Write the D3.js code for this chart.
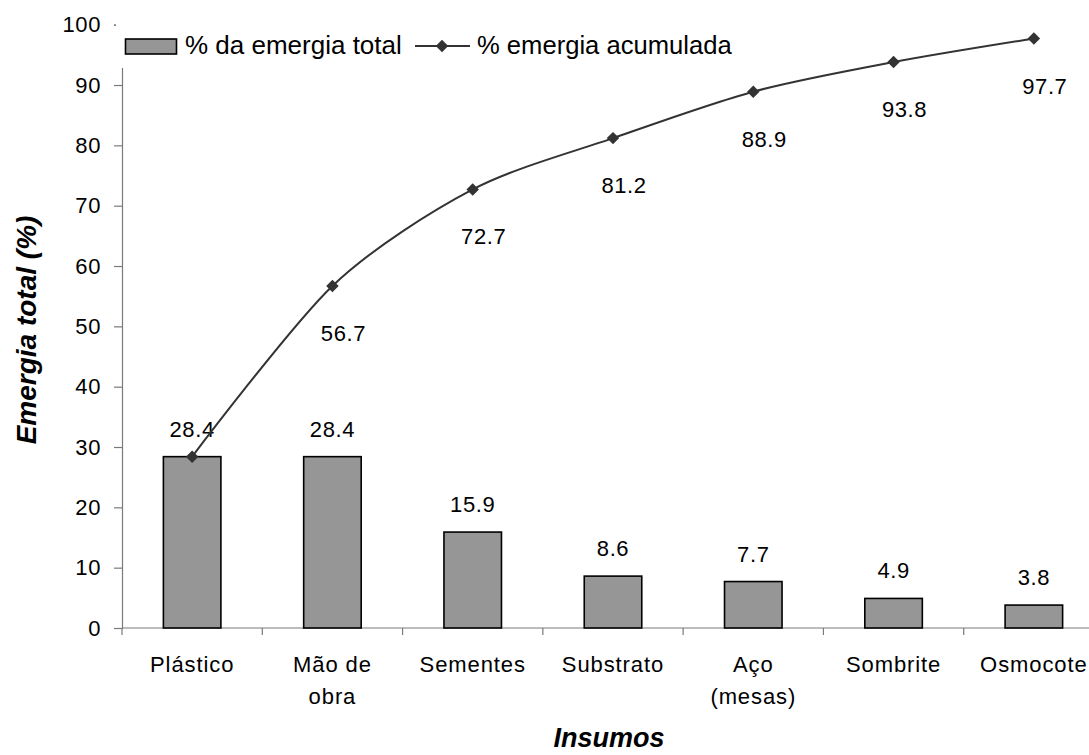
<!DOCTYPE html>
<html>
<head>
<meta charset="utf-8">
<script src="https://cdn.jsdelivr.net/npm/d3@7"></script>
<style>
  html, body { margin: 0; padding: 0; background: #fff; }
  svg { display: block; font-family: "Liberation Sans", Arial, sans-serif; }
</style>
</head>
<body>
<svg id="chart" width="1089" height="755"></svg>
<script>
// Emergy inputs, their share of total emergy and the running total
const categories = ["Plástico", "Mão de\nobra", "Sementes", "Substrato", "Aço\n(mesas)", "Sombrite", "Osmocote"];
const shareValues = [28.4, 28.4, 15.9, 8.6, 7.7, 4.9, 3.8];
const cumulativeValues = [28.4, 56.7, 72.7, 81.2, 88.9, 93.8, 97.7];
const yTicks = [0, 10, 20, 30, 40, 50, 60, 70, 80, 90, 100];
const legendLabels = ["% da emergia total", "% emergia acumulada"];

const svg = d3.select("#chart");
const plotLeft = 122, plotRight = 1104, plotTop = 24.7, plotBottom = 628;

const x = d3.scaleBand().domain(d3.range(categories.length)).range([plotLeft, plotRight]).padding(0);
const y = d3.scaleLinear().domain([0, 100]).range([plotBottom, plotTop]);
const axisColor = "#7a7a7a";

// Y axis
const yAxis = svg.append("g")
  .attr("transform", `translate(${plotLeft},0)`)
  .call(d3.axisLeft(y).tickValues(yTicks).tickSize(8).tickPadding(13).tickFormat(d3.format("d")));
yAxis.select(".domain").attr("stroke", axisColor).attr("stroke-width", 1.2);
yAxis.selectAll(".tick line").attr("stroke", axisColor).attr("stroke-width", 1.2);
yAxis.selectAll(".tick text")
  .attr("font-size", 22).attr("fill", "#000")
  .attr("font-family", "Liberation Sans, Arial, sans-serif")
  .attr("letter-spacing", 0.6);

// X axis (category boundaries ticked)
const xAxisG = svg.append("g").attr("transform", `translate(0,${plotBottom})`);
xAxisG.append("line")
  .attr("x1", plotLeft).attr("x2", plotRight).attr("y1", 0).attr("y2", 0)
  .attr("stroke", axisColor).attr("stroke-width", 1.2);
xAxisG.selectAll("line.tk")
  .data(d3.range(categories.length + 1))
  .join("line").attr("class", "tk")
  .attr("x1", i => plotLeft + i * x.step()).attr("x2", i => plotLeft + i * x.step())
  .attr("y1", 0).attr("y2", 7)
  .attr("stroke", axisColor).attr("stroke-width", 1.2);

// Category labels
const catLabels = svg.append("g").selectAll("text")
  .data(categories)
  .join("text")
  .attr("text-anchor", "middle")
  .attr("font-size", 22)
  .attr("letter-spacing", 0.9)
  .attr("fill", "#000")
  .attr("transform", (d, i) => `translate(${x(i) + x.bandwidth() / 2},${plotBottom + 44})`);
catLabels.selectAll("tspan")
  .data(d => d.split("\n"))
  .join("tspan")
  .attr("x", 0)
  .attr("dy", (d, i) => i === 0 ? 0 : 31.6)
  .text(d => d);

// Bars
const barW = x.bandwidth() * 0.41;
svg.append("g").selectAll("rect")
  .data(shareValues)
  .join("rect")
  .attr("x", (d, i) => x(i) + x.bandwidth() / 2 - barW / 2)
  .attr("y", d => y(d))
  .attr("width", barW)
  .attr("height", d => y(0) - y(d))
  .attr("fill", "#969696")
  .attr("stroke", "#000")
  .attr("stroke-width", 1.6);

// Bar value labels
svg.append("g").selectAll("text")
  .data(shareValues)
  .join("text")
  .attr("x", (d, i) => x(i) + x.bandwidth() / 2)
  .attr("y", d => y(d) - 20)
  .attr("text-anchor", "middle")
  .attr("font-size", 22)
  .attr("letter-spacing", 0.6)
  .text(d => d3.format(".1f")(d));

// Cumulative line (smoothed)
const line = d3.line()
  .x((d, i) => x(i) + x.bandwidth() / 2)
  .y(d => y(d))
  .curve(d3.curveCardinal.tension(0.15));
svg.append("path")
  .datum(cumulativeValues)
  .attr("d", line)
  .attr("fill", "none")
  .attr("stroke", "#333")
  .attr("stroke-width", 2);

const diamond = d3.symbol().type(d3.symbolSquare).size(78);
svg.append("g").selectAll("path")
  .data(cumulativeValues)
  .join("path")
  .attr("d", diamond)
  .attr("transform", (d, i) => `translate(${x(i) + x.bandwidth() / 2},${y(d)}) rotate(45)`)
  .attr("fill", "#333");

// Cumulative value labels (first point shares its label with the bar)
svg.append("g").selectAll("text")
  .data(cumulativeValues.map((v, i) => ({ v, i })).filter(d => d.i > 0))
  .join("text")
  .attr("x", d => x(d.i) + x.bandwidth() / 2 + 11)
  .attr("y", d => y(d.v) + 55)
  .attr("text-anchor", "middle")
  .attr("font-size", 22)
  .attr("letter-spacing", 0.6)
  .text(d => d3.format(".1f")(d.v));

// Legend (white box sits over the top of the value axis)
const legend = svg.append("g");
legend.append("rect")
  .attr("x", 116).attr("y", 23).attr("width", 630).attr("height", 45)
  .attr("fill", "#fff");
legend.append("rect")
  .attr("x", 125.5).attr("y", 39).attr("width", 51).attr("height", 15)
  .attr("fill", "#969696").attr("stroke", "#000").attr("stroke-width", 1.6);
legend.append("text")
  .attr("x", 185).attr("y", 53.5)
  .attr("font-size", 26)
  .text(legendLabels[0]);
legend.append("line")
  .attr("x1", 415).attr("x2", 470).attr("y1", 46).attr("y2", 46)
  .attr("stroke", "#333").attr("stroke-width", 2);
legend.append("path")
  .attr("d", diamond)
  .attr("transform", "translate(442,46) rotate(45)")
  .attr("fill", "#333");
legend.append("text")
  .attr("x", 477).attr("y", 53.5)
  .attr("font-size", 25.6)
  .text(legendLabels[1]);

// Axis titles
svg.append("text")
  .attr("x", 609).attr("y", 747)
  .attr("text-anchor", "middle")
  .attr("font-size", 27)
  .attr("font-weight", "bold")
  .attr("font-style", "italic")
  .text("Insumos");
svg.append("text")
  .attr("transform", "translate(36,330) rotate(-90)")
  .attr("text-anchor", "middle")
  .attr("font-size", 28)
  .attr("font-weight", "bold")
  .attr("font-style", "italic")
  .text("Emergia total (%)");
</script>
</body>
</html>
